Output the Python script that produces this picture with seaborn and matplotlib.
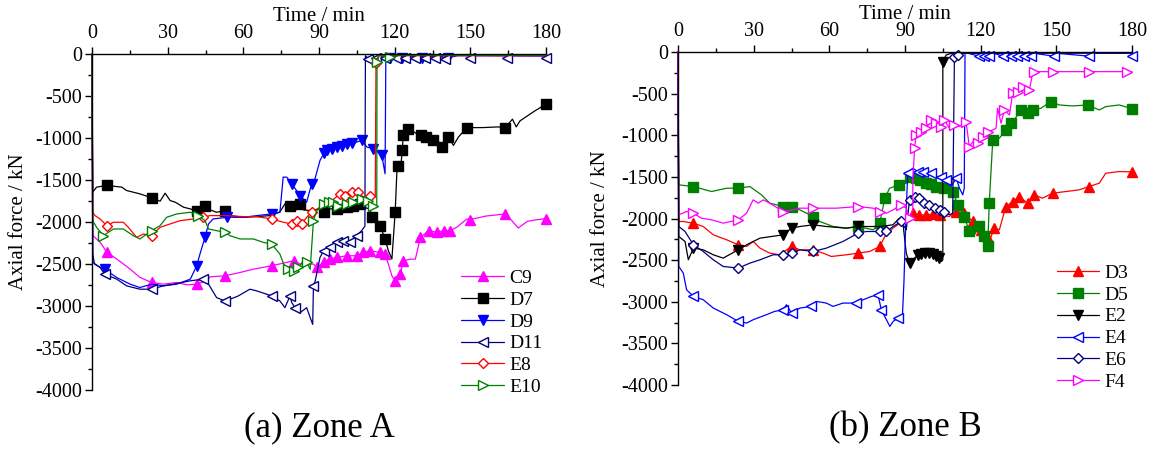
"""
plot.py - axial force histories of the struts in Zone A and Zone B.
"""

import numpy as np
import pandas as pd
import matplotlib
matplotlib.use("Agg")
import matplotlib.pyplot as plt
import seaborn as sns
from matplotlib.ticker import MultipleLocator

sns.set_theme(style="ticks")
plt.rcParams["font.family"] = ["Liberation Serif", "DejaVu Serif"]
plt.rcParams["axes.unicode_minus"] = False
plt.rcParams["axes.edgecolor"] = "black"
plt.rcParams["xtick.color"] = "black"
plt.rcParams["ytick.color"] = "black"
plt.rcParams["text.color"] = "black"
plt.rcParams["axes.labelcolor"] = "black"

# each point: (time [min], axial force [kN], marker shown 1/0)
# ---- Zone A ----
C9 = [(0, 0, 0), (0.3, -2160, 0), (3.2, -2240, 0), (5.9, -2360, 1), (9.8, -2440, 0), (15.1, -2560, 0),
      (19, -2660, 0), (23.7, -2720, 1), (28.3, -2740, 0), (33.6, -2720, 0), (37.6, -2748, 0), (41.5, -2740, 1),
      (45.5, -2700, 0), (46.8, -2652, 0), (52.7, -2641, 1), (58.7, -2601, 0), (64, -2561, 0), (71.2, -2521, 1),
      (75.8, -2490, 0), (79.9, -2461, 1), (82.5, -2501, 0), (87.8, -2501, 0), (89.2, -2541, 1), (91.8, -2481, 1),
      (94.4, -2442, 1), (97, -2422, 1), (101, -2402, 1), (105, -2402, 1), (107.6, -2362, 1), (110.2, -2342, 1),
      (114.2, -2362, 1), (116.2, -2382, 1), (117.5, -2501, 0), (118.9, -2641, 0), (120.2, -2700, 1),
      (122.2, -2621, 1), (123.5, -2461, 1), (126.2, -2442, 0), (128.2, -2442, 0), (130.2, -2183, 1),
      (133.5, -2103, 1), (136.7, -2123, 1), (139.4, -2103, 1), (142, -2103, 1), (144.6, -2063, 0),
      (148.6, -1964, 0), (149.8, -1972, 1), (156, -1930, 0), (163.8, -1904, 1), (166.7, -1992, 0),
      (169, -2072, 0), (172.6, -1992, 0), (175.6, -1976, 0), (180, -1960, 1)]
D7 = [(0, 0, 0), (0.3, -1645, 0), (1.8, -1585, 0), (5.8, -1565, 1), (11.8, -1585, 0), (13.7, -1625, 0),
      (19, -1665, 0), (23.7, -1713, 1), (27, -1752, 0), (29, -1657, 0), (31, -1745, 0), (33, -1764, 0),
      (36.3, -1824, 0), (39, -1844, 0), (41.5, -1872, 1), (44.8, -1804, 1), (46.8, -1856, 0), (49.4, -1884, 0),
      (52.7, -1864, 1), (54.7, -1924, 0), (60, -1944, 0), (65.3, -1936, 0), (70.6, -1924, 0), (74.5, -1880, 0),
      (76.5, -1784, 0), (78.5, -1804, 1), (82.5, -1784, 1), (83.8, -1856, 0), (86.5, -1864, 0),
      (90.5, -1844, 0), (91.8, -1884, 1), (94.4, -1844, 0), (97, -1844, 1), (101, -1824, 1), (103.6, -1804, 1),
      (106.2, -1784, 1), (107.6, -1824, 0), (110.2, -1844, 0), (110.9, -1944, 1), (112.9, -1984, 0),
      (114.2, -2043, 1), (116.2, -2203, 1), (117.5, -2342, 0), (118.9, -2441, 0), (120.2, -1884, 1),
      (120.9, -1386, 0), (121.3, -1330, 1), (122.5, -1320, 0), (123, -1147, 1), (123.4, -968, 1),
      (125.4, -888, 1), (128.7, -948, 0), (130.6, -968, 1), (132.6, -988, 1), (135.3, -1028, 1),
      (136.7, -1008, 0), (138.6, -1108, 1), (141.3, -988, 1), (143.3, -1088, 0), (145.3, -988, 0),
      (148.6, -877, 1), (155, -876, 0), (160.8, -868, 0), (163.8, -876, 1), (166.7, -776, 0), (168.2, -868, 0),
      (169.7, -796, 0), (175.6, -677, 0), (180, -597, 1)]
D9 = [(0, 0, 0), (0.3, -2480, 0), (3.2, -2541, 0), (5, -2561, 1), (9.8, -2661, 0), (15.1, -2740, 0),
      (19, -2780, 0), (23.7, -2740, 0), (28.3, -2760, 0), (33.6, -2740, 0), (39, -2680, 0), (41.5, -2521, 1),
      (42.8, -2382, 0), (44.8, -2183, 1), (46.2, -2023, 0), (48, -1964, 0), (53.4, -1944, 1), (60, -1944, 0),
      (65.3, -1924, 0), (71.2, -1904, 1), (74.5, -1884, 0), (75.8, -1466, 0), (77.2, -1466, 0),
      (79.2, -1545, 1), (82.5, -1685, 1), (85.1, -1764, 0), (87.1, -1545, 1), (88.4, -1486, 0),
      (90.4, -1267, 0), (92, -1180, 1), (93, -1147, 1), (95, -1130, 1), (97, -1108, 1), (99, -1100, 1),
      (101, -1068, 1), (103, -1060, 1), (105, -1048, 0), (107, -1028, 1), (109, -1108, 0), (111.5, -1128, 1),
      (114.9, -1207, 1), (116.2, -1426, 0), (116.5, -20, 0), (118, -50, 1), (120, -20, 0), (123, -45, 1),
      (126, -20, 0), (131, -45, 1), (135, -20, 0), (141, -45, 1), (145, -20, 0), (180, -25, 0)]
D11 = [(0, 0, 0), (0.3, -2382, 0), (1, -2501, 0), (3.2, -2541, 0), (5, -2621, 1), (9.8, -2680, 0),
       (13.7, -2760, 0), (19, -2800, 0), (23.7, -2800, 1), (28.3, -2760, 0), (33.6, -2732, 0), (39, -2700, 0),
       (44.2, -2680, 1), (46.2, -2740, 0), (49.4, -2900, 0), (52.7, -2940, 1), (54.7, -2920, 0), (58, -2880, 0),
       (62.6, -2800, 0), (65.3, -2820, 0), (69.3, -2860, 0), (71.2, -2880, 1), (74.5, -2940, 0),
       (76.5, -3020, 0), (78.5, -2880, 1), (79.2, -2960, 0), (80.5, -3020, 1), (82.5, -3080, 0),
       (85.1, -3020, 0), (87.5, -3219, 0), (87.8, -2760, 1), (88.5, -2700, 0), (90.4, -2422, 0),
       (91.8, -2342, 1), (94.4, -2302, 1), (97, -2243, 1), (99.6, -2223, 1), (102.3, -2243, 1),
       (104.9, -2163, 1), (106.9, -2103, 0), (108.2, -2050, 0), (108.4, -20, 0), (109.5, -55, 1),
       (111, -20, 0), (112.5, -50, 1), (114, -15, 0), (116, -50, 1), (118, -15, 0), (120.5, -45, 1),
       (122, -15, 0), (124, -50, 1), (126, -15, 0), (128, -45, 1), (130, -15, 0), (132, -50, 1), (134, -15, 0),
       (136, -50, 1), (138, -15, 0), (140, -55, 1), (143, -15, 0), (149.5, -15, 0), (150, -50, 1),
       (151, -15, 0), (164, -15, 0), (164.5, -50, 1), (165.5, -15, 0), (179.5, -15, 0), (180, -50, 1)]
E8 = [(0, 0, 0), (0.3, -1884, 0), (1.2, -1924, 0), (3.2, -1964, 0), (5.9, -2043, 1), (8.5, -2003, 0),
      (12.4, -2003, 0), (14.4, -2063, 0), (17.7, -2183, 0), (20.4, -2143, 0), (23.7, -2163, 1), (27, -2063, 0),
      (31, -2023, 0), (35, -1984, 0), (40.2, -1964, 0), (44.2, -1944, 1), (46.8, -1924, 0), (53.4, -1924, 0),
      (60, -1936, 0), (65.3, -1936, 0), (71.2, -1964, 1), (75.9, -2003, 0), (79.2, -2023, 1), (81.2, -1984, 1),
      (83.2, -2023, 1), (85.1, -1944, 0), (87.1, -1884, 1), (90.4, -1824, 0), (94.4, -1764, 0),
      (98.3, -1665, 1), (100.3, -1685, 1), (103, -1645, 1), (105.6, -1645, 1), (107.6, -1705, 0),
      (110.2, -1685, 1), (112.3, -1705, 0), (112.6, -104, 1), (113.5, -20, 0), (180, -20, 0)]
E10 = [(0, 0, 0), (0.3, -1984, 0), (1.8, -2063, 0), (4.5, -2163, 1), (8.5, -2083, 0), (12.4, -2083, 0),
       (16.4, -2163, 0), (19, -2202, 0), (23.7, -2103, 1), (27, -2043, 0), (29.6, -1944, 0), (33.6, -1904, 0),
       (39, -1884, 0), (42.1, -1924, 1), (44.8, -1984, 0), (46.2, -2083, 0), (49.4, -2103, 0),
       (52.7, -2123, 1), (54.7, -2163, 0), (58.7, -2202, 0), (64, -2202, 0), (68, -2243, 0), (71.2, -2262, 1),
       (74.5, -2382, 0), (76.5, -2541, 0), (77.8, -2561, 1), (79.9, -2581, 1), (81.8, -2541, 1),
       (83.8, -2461, 0), (85.1, -2481, 1), (86.5, -2561, 0), (87.8, -1984, 1), (89.1, -1864, 0),
       (91.8, -1784, 1), (93.8, -1764, 1), (95.7, -1764, 1), (97.7, -1804, 1), (101, -1784, 1),
       (103.6, -1764, 1), (106.9, -1725, 1), (109.5, -1745, 1), (111.5, -1804, 1), (112.9, -1830, 0),
       (113, -90, 1), (114, -15, 0), (118, -35, 1), (122, -15, 0), (180, -15, 0)]

# ---- Zone B ----
D3 = [(0, 0, 0), (0.3, -2036, 0), (2.1, -2036, 0), (6.1, -2056, 1), (10, -2096, 0), (14, -2196, 0),
      (19.3, -2256, 0), (23.9, -2316, 1), (27.2, -2336, 0), (29.8, -2276, 0), (32.5, -2356, 0),
      (36.4, -2416, 0), (40.3, -2436, 0), (45, -2336, 1), (48.3, -2376, 0), (53.6, -2376, 1), (57.5, -2416, 0),
      (60.8, -2456, 0), (66.8, -2436, 0), (71.4, -2416, 1), (76, -2396, 0), (80, -2336, 1), (82, -2216, 0),
      (85.2, -2116, 0), (89.1, -2036, 0), (93.1, -1936, 1), (95.5, -1960, 1), (98.4, -1956, 1),
      (101, -1950, 1), (103.7, -1956, 1), (107.6, -1976, 0), (110.3, -1916, 1), (113.5, -1936, 1),
      (116.8, -2036, 1), (120.1, -2136, 1), (122.8, -2236, 1), (123.4, -2276, 0), (125.4, -2116, 1),
      (127.4, -2136, 0), (130, -1856, 1), (132.7, -1796, 1), (135.3, -1736, 1), (138.6, -1816, 1),
      (141.2, -1716, 1), (144.5, -1756, 0), (148.5, -1696, 1), (153.8, -1676, 0), (159, -1656, 0),
      (163, -1616, 1), (167, -1576, 0), (169.6, -1456, 0), (174.9, -1436, 0), (180, -1440, 1)]
D5 = [(0, 0, 0), (0.3, -1596, 0), (6.1, -1616, 1), (13.3, -1676, 0), (19.3, -1636, 0), (23.9, -1636, 1),
      (28.5, -1616, 0), (33.1, -1716, 0), (36.4, -1816, 0), (41.7, -1856, 1), (45, -1856, 1), (48.3, -1896, 0),
      (53.6, -1976, 1), (56.2, -2036, 0), (61.5, -2096, 0), (66.8, -2116, 0), (71.4, -2096, 1),
      (77.4, -2136, 0), (80, -2056, 1), (82, -1756, 1), (83.9, -1636, 0), (87.8, -1596, 1), (90.5, -1576, 0),
      (91.8, -1496, 1), (94.4, -1516, 1), (96, -1540, 1), (98.4, -1576, 1), (100.5, -1590, 1),
      (102.3, -1616, 1), (105.6, -1636, 1), (108.9, -1676, 1), (110.9, -1836, 1), (113.5, -1976, 1),
      (115.5, -2156, 1), (117.5, -2196, 0), (119.5, -2096, 1), (121.5, -2216, 1), (122.8, -2336, 1),
      (123.4, -1816, 1), (124.8, -1056, 1), (127.4, -1036, 0), (130, -936, 1), (132, -856, 1),
      (133.3, -816, 0), (136, -696, 1), (138.6, -736, 1), (140.6, -696, 1), (143.9, -676, 0),
      (147.8, -596, 1), (151.1, -636, 0), (156.4, -648, 0), (162.4, -636, 1), (167, -696, 0),
      (169.6, -656, 0), (174.9, -636, 0), (180, -680, 1)]
E2 = [(0, 0, 0), (0.3, -2216, 0), (2.8, -2276, 0), (4.1, -2496, 0), (6.1, -2356, 1), (10, -2376, 0),
      (14, -2436, 0), (17.9, -2476, 0), (23.9, -2376, 1), (27.2, -2316, 0), (32.5, -2236, 0),
      (41.7, -2196, 1), (45, -2116, 1), (48.3, -2096, 0), (53.6, -2076, 1), (58.8, -2096, 0),
      (66.8, -2116, 0), (71.4, -2096, 1), (80, -2096, 0), (85.2, -2076, 0), (87.8, -1996, 0),
      (89.1, -2036, 0), (90.5, -2416, 0), (91.8, -2536, 1), (93.1, -2496, 0), (95.1, -2436, 1),
      (96.5, -2430, 1), (98, -2416, 1), (99.7, -2416, 1), (101, -2430, 1), (102.3, -2456, 1),
      (103.5, -2480, 1), (104.5, -2516, 0), (105, -2496, 0), (105, -116, 1), (106.3, -36, 0),
      (108.3, -16, 0), (180, -10, 0)]
E4 = [(0, 0, 0), (0.3, -2576, 0), (2.1, -2656, 0), (3.4, -2856, 0), (6.1, -2936, 1), (10, -2976, 0),
      (14, -3076, 0), (19.3, -3156, 0), (23.9, -3236, 1), (27.2, -3256, 0), (29.8, -3216, 0),
      (35, -3156, 0), (38.3, -3116, 0), (41.7, -3096, 1), (43, -3036, 0), (45, -3136, 1), (48.3, -3076, 0),
      (52.9, -3056, 1), (54.9, -2996, 0), (58.8, -3016, 0), (61.5, -3056, 0), (65.4, -3016, 0),
      (70.7, -3016, 1), (73.4, -2976, 0), (76.7, -2936, 0), (79.3, -2916, 1), (80.6, -3096, 1),
      (84, -3296, 0), (85.3, -3236, 0), (87.2, -3196, 1), (88.9, -3228, 0), (89.6, -2748, 0),
      (90.4, -1948, 0), (91.1, -1456, 1), (93.1, -1396, 0), (95.1, -1436, 1), (97.1, -1436, 1),
      (99, -1476, 0), (100.4, -1456, 1), (102.3, -1496, 0), (104.3, -1496, 1), (106.3, -1536, 1),
      (108.3, -1616, 0), (110.3, -1516, 1), (111.6, -1636, 0), (112.9, -1716, 0), (113.5, -1636, 0),
      (113.8, -16, 0), (115, -16, 0), (119.5, -50, 1), (120.5, -15, 0), (121.5, -50, 1), (122.5, -15, 0),
      (123.5, -45, 1), (125, -15, 0), (129, -50, 1), (130.5, -15, 0), (132, -50, 1), (133, -15, 0),
      (134.5, -50, 1), (135.5, -15, 0), (137, -50, 1), (138, -15, 0), (140, -50, 1), (141, -15, 0),
      (149, -50, 1), (150, -15, 0), (163, -50, 1), (164, -15, 0), (179.5, -15, 0), (180, -50, 1)]
E6 = [(0, 0, 0), (0.3, -2096, 0), (2.8, -2156, 0), (6.1, -2316, 1), (10, -2396, 0), (14, -2496, 0),
      (17.9, -2576, 0), (23.9, -2596, 1), (28.5, -2536, 0), (32.5, -2496, 0), (37.7, -2436, 0),
      (41.7, -2436, 1), (45, -2416, 1), (48.3, -2376, 0), (53.6, -2396, 1), (58.8, -2356, 0),
      (65.4, -2276, 0), (71.4, -2176, 1), (74.7, -2156, 0), (80, -2156, 1), (82.6, -2156, 1),
      (85.3, -2096, 0), (88.5, -2036, 1), (90.5, -2136, 0), (91.8, -1776, 1), (93.8, -1736, 1),
      (95.7, -1756, 1), (97.7, -1816, 1), (99.7, -1836, 1), (101.7, -1876, 1), (103.7, -1896, 1),
      (105.6, -1916, 1), (107.6, -1956, 0), (108.9, -1936, 0), (109.6, -56, 1), (110.9, -36, 1),
      (112, -15, 0), (180, -10, 0)]
F4 = [(0, 0, 0), (0.3, -1956, 0), (3.4, -1916, 0), (6.1, -1936, 1), (9.3, -1996, 0), (13.3, -2016, 0),
      (17.9, -2056, 0), (23.9, -2016, 1), (27.2, -1936, 0), (29.8, -1776, 0), (31.8, -1816, 0),
      (33.8, -1776, 0), (36.4, -1816, 0), (41.7, -1916, 1), (45.6, -1896, 0), (48.3, -1876, 0),
      (53.6, -1876, 1), (62.8, -1876, 0), (71.4, -1856, 1), (77.4, -1876, 0), (80, -1916, 1),
      (82.6, -1936, 0), (85.3, -1896, 0), (88.5, -1836, 1), (90.5, -1876, 0), (91.8, -1996, 1),
      (93.1, -1896, 0), (93.1, -1536, 0), (93.8, -1156, 1), (94.4, -996, 1), (96.4, -956, 1),
      (98.4, -916, 1), (100.4, -816, 1), (102.3, -856, 1), (104.3, -896, 1), (105.6, -816, 1),
      (107.6, -916, 0), (109.6, -876, 1), (111.6, -896, 0), (114.2, -836, 1), (115.5, -1136, 1),
      (117.5, -1056, 0), (118.8, -1096, 1), (120.8, -1016, 1), (122.8, -956, 1), (124.8, -936, 0),
      (126.1, -916, 0), (126.7, -676, 0), (128.1, -856, 0), (129.4, -696, 1), (131.4, -756, 0),
      (132.7, -496, 1), (134.7, -476, 1), (136.6, -416, 1), (139.3, -456, 1), (140.6, -256, 0),
      (141.2, -236, 1), (148.5, -236, 1), (153.8, -236, 0), (163, -236, 1), (169.6, -236, 0),
      (178.2, -236, 1), (180, -240, 0)]

ZONE_A = [("C9", C9, "#ff00ff", "^", True), ("D7", D7, "black", "s", True),
          ("D9", D9, "#0000ff", "v", True), ("D11", D11, "#000080", "<", False),
          ("E8", E8, "#ff0000", "D", False), ("E10", E10, "#008000", ">", False)]
ZONE_B = [("D3", D3, "#ff0000", "^", True), ("D5", D5, "#008000", "s", True),
          ("E2", E2, "black", "v", True), ("E4", E4, "#0000ff", "<", False),
          ("E6", E6, "#000080", "D", False), ("F4", F4, "#ff00ff", ">", False)]


def draw_series(ax, label, pts, color, marker, filled):
    df = pd.DataFrame(pts, columns=["t", "f", "m"])
    idx = [int(i) for i in np.flatnonzero(df["m"].values)]
    ms = 5.0 if marker == "D" else 6.5
    sns.lineplot(data=df, x="t", y="f", sort=False, estimator=None, ax=ax,
                 color=color, lw=0.9, marker=marker, markevery=idx, ms=ms,
                 mfc=color if filled else "white", mec=color, mew=1.0,
                 label=label, clip_on=False)


def style_axes(ax, caption, ylab_x):
    ax.set_xlim(0, 180)
    ax.set_ylim(-4000, 0)
    ax.spines["right"].set_visible(False)
    ax.spines["bottom"].set_visible(False)
    ax.spines["left"].set_linewidth(1.0)
    ax.spines["top"].set_linewidth(1.0)
    ax.xaxis.tick_top()
    ax.xaxis.set_label_position("top")
    ax.xaxis.set_major_locator(MultipleLocator(30))
    ax.xaxis.set_minor_locator(MultipleLocator(15))
    ax.yaxis.set_major_locator(MultipleLocator(500))
    ax.yaxis.set_minor_locator(MultipleLocator(250))
    ax.tick_params(which="both", direction="out", labelsize=14.5, width=1.0)
    ax.tick_params(which="major", length=5)
    ax.tick_params(which="minor", length=3)
    ax.tick_params(axis="x", pad=3)
    ax.tick_params(axis="y", pad=2)
    ax.set_xlabel("Time / min", fontsize=15, labelpad=2)
    ax.set_ylabel("Axial force / kN", fontsize=15)
    ax.yaxis.set_label_coords(ylab_x, 0.5)
    ax.legend(loc="lower right", bbox_to_anchor=(1.0, -0.03), frameon=False, fontsize=14,
              handlelength=2.2, handletextpad=0.25, labelspacing=0.22, borderpad=0.2,
              borderaxespad=0)
    pos = ax.get_position()
    ax.figure.text((pos.x0 + pos.x1) / 2, 0.05, caption, ha="center", va="center", fontsize=25)


fig = plt.figure(figsize=(11.54, 4.5), dpi=100)
ax_a = fig.add_axes([92 / 1154, 1 - 390 / 450, 454 / 1154, 336 / 450])
ax_b = fig.add_axes([678 / 1154, 1 - 385 / 450, 454 / 1154, 333 / 450])

for label, pts, color, marker, filled in ZONE_A:
    draw_series(ax_a, label, pts, color, marker, filled)
for label, pts, color, marker, filled in ZONE_B:
    draw_series(ax_b, label, pts, color, marker, filled)

style_axes(ax_a, "(a) Zone A", -0.14)
style_axes(ax_b, "(b) Zone B", -0.15)

fig.savefig("out.png", dpi=100)
